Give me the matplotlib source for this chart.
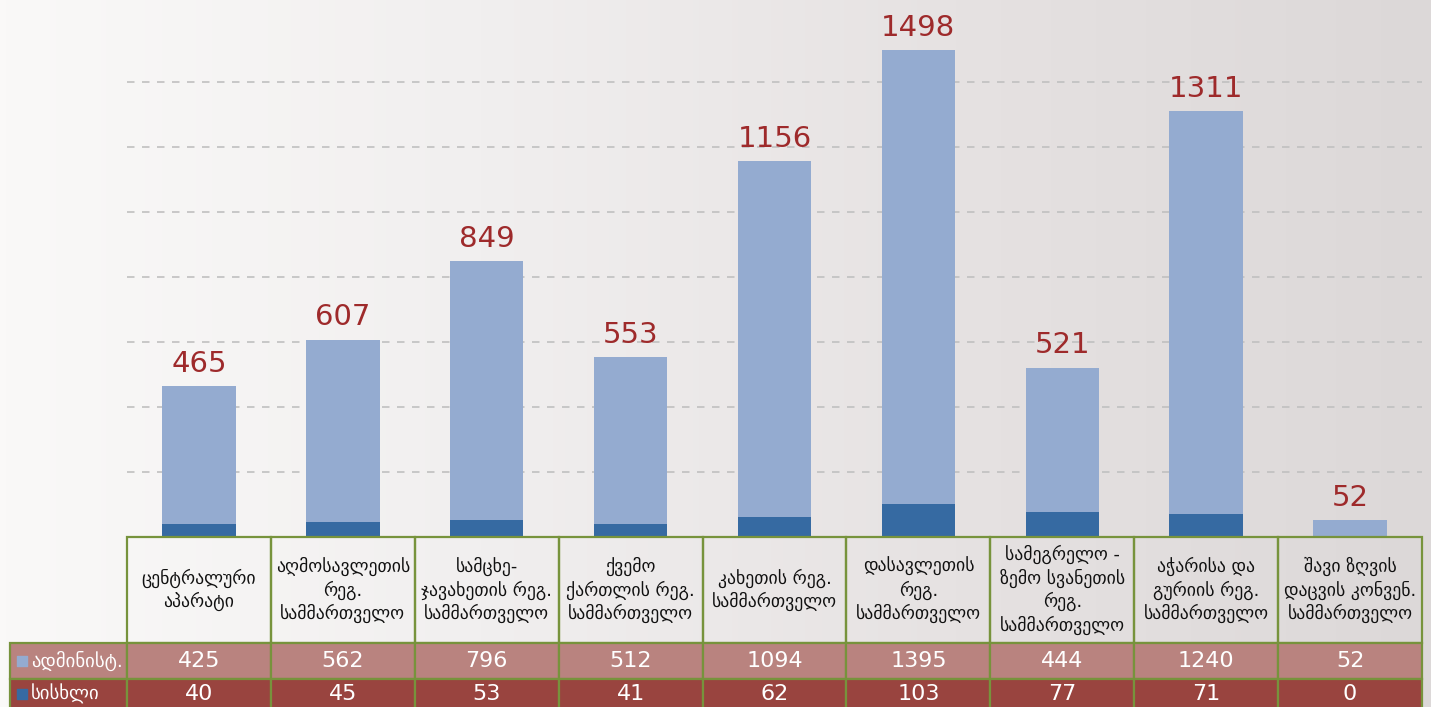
import numpy as np
import matplotlib
matplotlib.use("Agg")
import matplotlib.pyplot as plt
import matplotlib.transforms as mtransforms
from matplotlib.patches import Rectangle
from matplotlib.colors import LinearSegmentedColormap

plt.rcParams['font.family'] = ['DejaVu Sans']

# data
categories = [
    "ცენტრალური\nაპარატი",
    "აღმოსავლეთის\nრეგ.\nსამმართველო",
    "სამცხე-\nჯავახეთის რეგ.\nსამმართველო",
    "ქვემო\nქართლის რეგ.\nსამმართველო",
    "კახეთის რეგ.\nსამმართველო",
    "დასავლეთის\nრეგ.\nსამმართველო",
    "სამეგრელო -\nზემო სვანეთის\nრეგ.\nსამმართველო",
    "აჭარისა და\nგურიის რეგ.\nსამმართველო",
    "შავი ზღვის\nდაცვის კონვენ.\nსამმართველო",
]
admin = [425, 562, 796, 512, 1094, 1395, 444, 1240, 52]
criminal = [40, 45, 53, 41, 62, 103, 77, 71, 0]
series_names = ["ადმინისტ.", "სისხლი"]

# colours
c_admin = "#94abd0"
c_crim = "#366aa2"
c_label = "#9e2a2b"
c_row1 = "#b9837f"
c_row2 = "#99443f"
c_border = "#77933c"

W, H = 1431, 707
fig = plt.figure(figsize=(W / 100, H / 100), dpi=100)

# background gradient
bg = fig.add_axes([0, 0, 1, 1], zorder=-10)
grad = np.linspace(0, 1, 256)[None, :]
cmap = LinearSegmentedColormap.from_list("bg", ["#faf9f8", "#f1efef", "#e6e2e2", "#dcd8d8"])
bg.imshow(grad, aspect="auto", cmap=cmap, extent=[0, 1, 0, 1])
bg.axis("off")

base_px = 537
ax = fig.add_axes([127 / W, (H - base_px) / H, (1422 - 127) / W, base_px / H])
ax.patch.set_alpha(0)

x = np.arange(len(categories))
totals = [a + c for a, c in zip(admin, criminal)]
bw = 0.51
ax.bar(x, criminal, bw, color=c_crim, zorder=3)
ax.bar(x, admin, bw, bottom=criminal, color=c_admin, zorder=3)

for xi, t in zip(x, totals):
    ax.annotate(str(t), (xi, t), xytext=(0, 6), textcoords="offset points",
                ha="center", va="bottom", fontsize=21, color=c_label, zorder=4)

ax.set_xlim(-0.5, len(categories) - 0.5)
ax.set_ylim(0, 1652)
ax.set_yticks(range(200, 1401, 200))
ax.set_xticks([])
ax.yaxis.grid(True, color="#c0c0c0", linestyle=(0, (4.5, 4.5)), linewidth=1.2)
ax.tick_params(left=False, labelleft=False)
for s in ax.spines.values():
    s.set_visible(False)

# data table under the bars
trans = mtransforms.blended_transform_factory(ax.transData, ax.transAxes)
h_head = 106 / base_px
h_row = 36 / base_px
lab_w = 117 / 144
lw = 1.6

for i, cat in enumerate(categories):
    ax.add_patch(Rectangle((i - 0.5, -h_head), 1, h_head, transform=trans, fill=False,
                           edgecolor=c_border, lw=lw, clip_on=False, zorder=5))
    ax.text(i, -h_head / 2, cat, transform=trans, ha="center", va="center",
            fontsize=12.8, color="#111111", linespacing=1.28, clip_on=False)

rows = [admin, criminal]
row_cols = [c_row1, c_row2]
marker_cols = [c_admin, c_crim]
for r, (vals, fc) in enumerate(zip(rows, row_cols)):
    y0 = -h_head - (r + 1) * h_row
    yc = y0 + h_row / 2 + (0.006 if r == 1 else 0)
    ax.add_patch(Rectangle((-0.5 - lab_w, y0), lab_w, h_row, transform=trans, facecolor=fc,
                           edgecolor=c_border, lw=lw, clip_on=False, zorder=5))
    ax.scatter([-0.5 - lab_w + 0.085], [yc], marker="s", s=55,
               color=marker_cols[r], transform=trans, clip_on=False, zorder=6)
    ax.text(-0.5 - lab_w + 0.145, yc, series_names[r], transform=trans,
            ha="left", va="center", fontsize=13.5, color="white", clip_on=False, zorder=6)
    for i, v in enumerate(vals):
        ax.add_patch(Rectangle((i - 0.5, y0), 1, h_row, transform=trans, facecolor=fc,
                               edgecolor=c_border, lw=lw, clip_on=False, zorder=5))
        ax.text(i, yc, str(v), transform=trans, ha="center", va="center",
                fontsize=16, color="white", clip_on=False, zorder=6)

fig.savefig("out.png", dpi=100)
